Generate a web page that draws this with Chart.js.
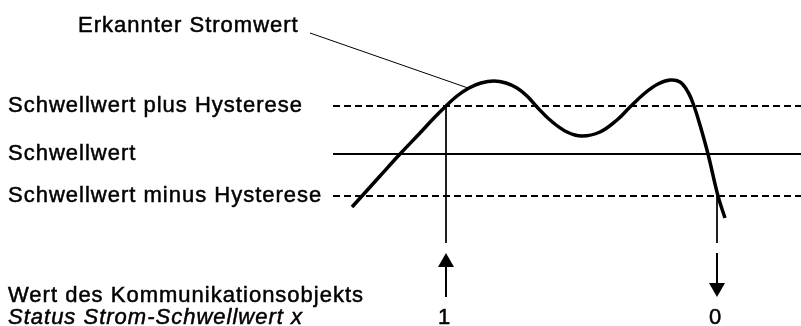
<!DOCTYPE html>
<html>
<head>
<meta charset="utf-8">
<script src="https://cdn.jsdelivr.net/npm/chart.js@4/dist/chart.umd.min.js"></script>
<style>
  html, body { margin: 0; padding: 0; background: #fff; }
  #wrap { width: 801px; height: 326px; }
</style>
</head>
<body>
<div id="wrap"><canvas id="c" width="801" height="326"></canvas></div>
<script>
// measured current over time (x = time, y = current)
const curveX = [352, 362, 380, 400, 420, 433, 445, 457, 469, 481, 494, 506, 517, 527, 537, 550, 567, 582, 600, 617, 630, 645, 658, 670, 680, 688, 694, 700, 708, 718, 725];
const curveY = [119, 130, 150, 172, 193, 207, 219, 230, 238, 243, 245, 243, 238, 230, 219, 206, 194, 190, 194, 206, 219, 233, 242, 246, 244, 234, 220, 201, 172, 130, 108];

// threshold levels
const levelPlus = 220;
const levelThreshold = 172;
const levelMinus = 130;

// where the horizontal lines start / end
const lineStartX = 333;
const lineEndX = 801;

// switching points of the communication object
const switchX = [446, 717];
const switchFrom = [levelPlus, levelMinus];
const switchValue = ['1', '0'];
const switchDir = ['up', 'down'];
const markerBottom = 83;
const arrowTop = 73;
const arrowBottom = 29;

// callout "Erkannter Stromwert"
const calloutX = [310, 468];
const calloutY = [293, 238];

const levelLabels = ['Schwellwert plus Hysterese', 'Schwellwert', 'Schwellwert minus Hysterese'];
const levelValues = [levelPlus, levelThreshold, levelMinus];

const FONT = '"Liberation Sans", Arial, Helvetica, sans-serif';

function hLine(y, dashed) {
    return {
        data: [{x: lineStartX, y: y}, {x: lineEndX, y: y}],
        borderColor: '#000',
        borderWidth: 2,
        borderDash: dashed ? [7, 4] : [],
        pointRadius: 0,
        showLine: true
    };
}

// text drawn slightly heavier and wider, like the original print
function label(ctx, text, x, y) {
    ctx.fillText(text, x, y);
    ctx.lineWidth = 0.5;
    ctx.strokeText(text, x, y);
}

const labelPlugin = {
    id: 'labels',
    afterDraw(chart) {
        const ctx = chart.ctx;
        const xs = chart.scales.x;
        const ys = chart.scales.y;
        ctx.save();
        ctx.fillStyle = '#000';
        ctx.strokeStyle = '#000';
        ctx.textBaseline = 'middle';
        ctx.textAlign = 'left';
        ctx.letterSpacing = '1px';
        ctx.font = '22px ' + FONT;

        levelLabels.forEach((t, i) => {
            label(ctx, t, 8, ys.getPixelForValue(levelValues[i]));
        });
        label(ctx, 'Erkannter Stromwert', 78, ys.getPixelForValue(calloutY[0]) - 7);
        label(ctx, 'Wert des Kommunikationsobjekts', 8, 296);
        ctx.font = 'italic 22px ' + FONT;
        label(ctx, 'Status Strom-Schwellwert x', 8, 318);

        // arrows
        switchX.forEach((sx, i) => {
            const px = xs.getPixelForValue(sx);
            const top = ys.getPixelForValue(arrowTop);
            const bot = ys.getPixelForValue(arrowBottom);
            const head = 14;
            ctx.lineWidth = 2;
            ctx.beginPath();
            if (switchDir[i] === 'up') {
                ctx.moveTo(px, bot);
                ctx.lineTo(px, top + head);
                ctx.stroke();
                ctx.beginPath();
                ctx.moveTo(px, top);
                ctx.lineTo(px - 8, top + head);
                ctx.lineTo(px + 8, top + head);
            } else {
                ctx.moveTo(px, top);
                ctx.lineTo(px, bot - head);
                ctx.stroke();
                ctx.beginPath();
                ctx.moveTo(px, bot);
                ctx.lineTo(px - 8, bot - head);
                ctx.lineTo(px + 8, bot - head);
            }
            ctx.closePath();
            ctx.fill();

            ctx.font = '22px ' + FONT;
            ctx.textAlign = 'center';
            ctx.letterSpacing = '0px';
            label(ctx, switchValue[i], px - 2, 318);
            ctx.textAlign = 'left';
        });
        ctx.restore();
    }
};

const datasets = [
    hLine(levelPlus, true),
    hLine(levelThreshold, false),
    hLine(levelMinus, true),
    {
        data: curveX.map((x, i) => ({x: x, y: curveY[i]})),
        borderColor: '#000',
        borderWidth: 3.5,
        pointRadius: 0,
        showLine: true,
        tension: 0.4
    },
    {
        data: calloutX.map((x, i) => ({x: x, y: calloutY[i]})),
        borderColor: '#000',
        borderWidth: 1,
        pointRadius: 0,
        showLine: true
    }
];
switchX.forEach((sx, i) => {
    datasets.push({
        data: [{x: sx, y: switchFrom[i]}, {x: sx, y: markerBottom}],
        borderColor: '#000',
        borderWidth: 1,
        pointRadius: 0,
        showLine: true
    });
});

new Chart(document.getElementById('c'), {
    type: 'scatter',
    data: { datasets: datasets },
    options: {
        responsive: false,
        animation: false,
        events: [],
        layout: { padding: 0 },
        plugins: {
            legend: { display: false },
            tooltip: { enabled: false }
        },
        scales: {
            x: { type: 'linear', min: 0, max: 801, display: false },
            y: { type: 'linear', min: 0, max: 326, display: false }
        }
    },
    plugins: [labelPlugin]
});
</script>
</body>
</html>
